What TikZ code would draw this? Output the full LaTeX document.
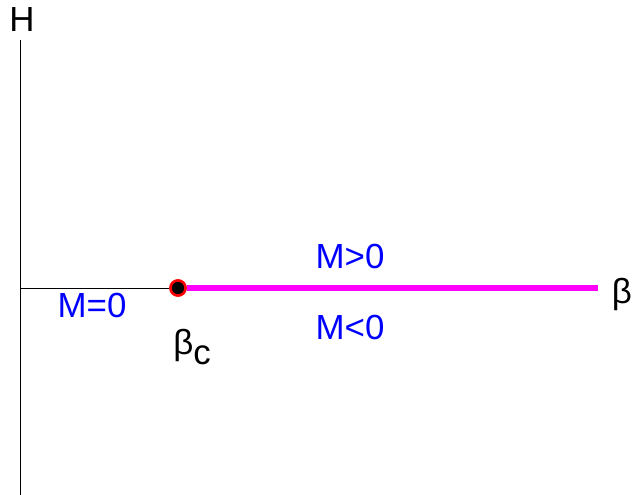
\documentclass[tikz,border=0pt]{standalone}
\usepackage{fontspec}
\setmainfont{Liberation Sans}
\setsansfont{Liberation Sans}
\definecolor{pmag}{RGB}{255,0,255}
\begin{document}
\begin{tikzpicture}[x=1bp,y=-1bp,every node/.style={font=\fontsize{35}{40}\selectfont}]
    \tikzset{lbl/.style={text=blue,inner sep=0pt}};
    \tikzset{axis/.style={draw=black,line width=0.8bp}};
    \tikzset{crit/.style={circle,fill=black,draw=red,line width=2.5bp,minimum size=15bp,inner sep=0pt}};
    \useasboundingbox (0,0) rectangle (634,495);
    \coordinate (top) at (20,40);
    \coordinate (bot) at (20,495);
    \coordinate (orig) at (20,288);
    \coordinate (end) at (598,288);
    \node[crit] (bc) at (178,288) {};
    \node[inner sep=0pt] (H) at (22,20) {H};
    \node[inner sep=0pt] (beta) at (622,294) {β};
    \node[inner sep=0pt] (betac) at (192,347) {β\raisebox{-0.3em}{c}};
    \node[lbl] (m0) at (92,305) {M=0};
    \node[lbl] (mpos) at (350,256) {M>0};
    \node[lbl] (mneg) at (350,327) {M<0};
    {
      \path[axis]
        (top) -- (bot)
        (orig) -- (bc)
        ;
      \draw[pmag,line width=6bp] (bc.east) -- (end);
      \node[crit] at (bc) {};
      }
    \end{tikzpicture}
\end{document}
